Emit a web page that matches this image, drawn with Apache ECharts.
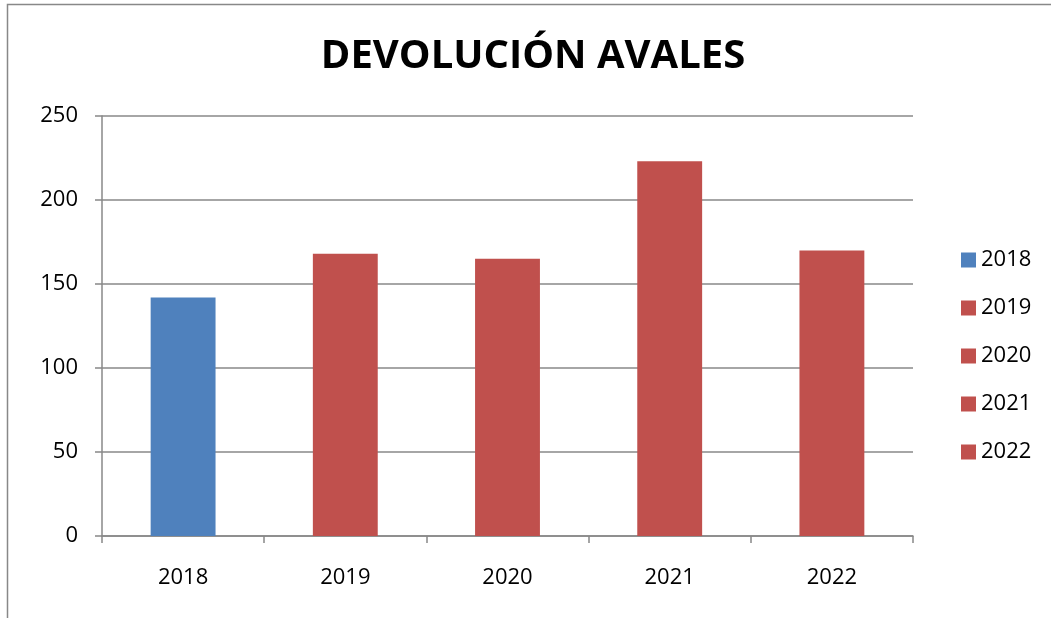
<!DOCTYPE html>
<html>
<head>
<meta charset="utf-8">
<script src="https://cdn.jsdelivr.net/npm/echarts@6/dist/echarts.min.js"></script>
<style>
html,body{margin:0;padding:0;background:#fff;}
#chart{width:1051px;height:618px;}
</style>
</head>
<body>
<div id="chart"></div>
<script>
const categories = ['2018', '2019', '2020', '2021', '2022'];
const seriesNames = ['2018', '2019', '2020', '2021', '2022'];
const values = [142, 168, 165, 223, 170];
const seriesColors = ['#4F81BD', '#C0504D', '#C0504D', '#C0504D', '#C0504D'];
const yTicks = [0, 50, 100, 150, 200, 250];

const FONT = '"Open Sans", sans-serif';
const series = seriesNames.map((name, i) => ({
  name: name,
  type: 'bar',
  stack: 'total',
  barWidth: '40%',
  itemStyle: { color: seriesColors[i] },
  data: categories.map((c, j) => (j === i ? values[i] : '-'))
}));

const chart = echarts.init(document.getElementById('chart'), null, { renderer: 'canvas' });
chart.setOption({
  animation: false,
  backgroundColor: '#fff',
  title: {
    text: 'DEVOLUCIÓN AVALES',
    left: 528,
    top: 32,
    textAlign: 'center',
    textStyle: { fontFamily: FONT, fontWeight: 'bold', fontSize: 40, color: '#000' }
  },
  graphic: [{
    type: 'rect',
    shape: { x: 7.5, y: 4.5, width: 1200, height: 800 },
    style: { fill: 'none', stroke: '#888', lineWidth: 1.5 },
    silent: true
  }],
  legend: {
    orient: 'vertical',
    left: 956,
    top: 243,
    itemWidth: 15,
    itemHeight: 15,
    itemGap: 24,
    icon: 'rect',
    data: seriesNames,
    textStyle: { fontFamily: FONT, fontSize: 22, color: '#000', lineHeight: 24 }
  },
  grid: { left: 102, right: 138, top: 116, bottom: 82 },
  xAxis: {
    type: 'category',
    data: categories,
    axisLine: { lineStyle: { color: '#888', width: 1.5 } },
    axisTick: { show: true, alignWithLabel: false, length: 7, lineStyle: { color: '#888', width: 1.5 } },
    axisLabel: { fontFamily: FONT, fontSize: 22, color: '#000', margin: 31 }
  },
  yAxis: {
    type: 'value',
    min: 0,
    max: 250,
    interval: 50,
    axisLine: { show: true, lineStyle: { color: '#888', width: 1.5 } },
    axisTick: { show: true, length: 7, lineStyle: { color: '#888', width: 1.5 } },
    splitLine: { show: true, lineStyle: { color: '#888', width: 1.5 } },
    axisLabel: { fontFamily: FONT, fontSize: 22, color: '#000', margin: 24 }
  },
  series: series
});
</script>
</body>
</html>
